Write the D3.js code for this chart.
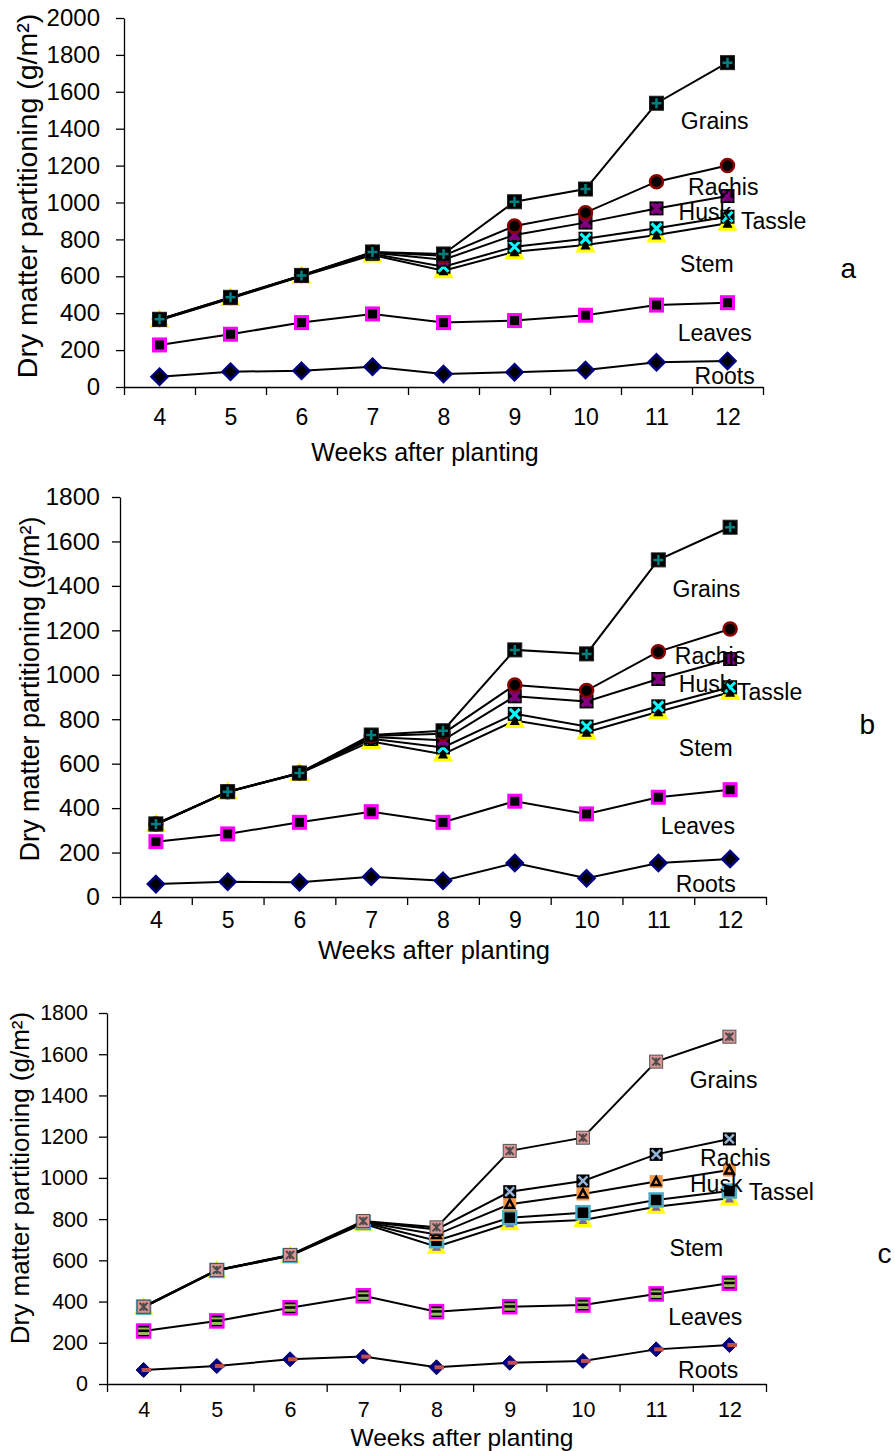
<!DOCTYPE html>
<html>
<head>
<meta charset="utf-8">
<script src="https://cdn.jsdelivr.net/npm/d3@7"></script>
<style>
  body { margin: 0; background: #fff; }
  text { font-family: "Liberation Sans", Arial, sans-serif; fill: #000; }
</style>
</head>
<body>
<svg width="895" height="1451"></svg>
<script>
// weeks after planting (categories)
const weeks = [4, 5, 6, 7, 8, 9, 10, 11, 12];

// panel a, cumulative dry matter (g/m2)
const rootsA  = [56, 83, 88, 110, 70, 80, 92, 134, 141];
const leavesA = [228, 286, 349, 396, 349, 360, 389, 444, 457];
const stemA   = [362, 480, 600, 715, 630, 733, 770, 824, 887];
const tasselA = [364, 482, 602, 722, 652, 760, 804, 860, 923];
const huskA   = [365, 484, 603, 728, 690, 824, 891, 968, 1035];
const rachisA = [366, 485, 604, 730, 712, 873, 945, 1113, 1200];
const grainsA = [367, 486, 605, 732, 721, 1004, 1073, 1538, 1758];

// panel b
const rootsB  = [58, 69, 66, 91, 73, 153, 84, 153, 171];
const leavesB = [249, 284, 336, 384, 336, 431, 374, 449, 483];
const stemB   = [326, 472, 556, 700, 643, 794, 741, 834, 921];
const tasselB = [327, 473, 557, 712, 673, 824, 767, 858, 944];
const huskB   = [328, 473, 557, 720, 705, 903, 880, 981, 1071];
const rachisB = [328, 474, 558, 725, 735, 954, 929, 1104, 1206];
const grainsB = [329, 474, 558, 729, 748, 1112, 1094, 1517, 1664];

// panel c
const rootsC  = [68, 87, 120, 133, 81, 103, 112, 168, 189];
const leavesC = [257, 306, 370, 428, 351, 375, 383, 437, 489];
const stemC   = [372, 550, 622, 778, 666, 780, 796, 860, 901];
const tasselC = [373, 551, 623, 783, 695, 807, 831, 893, 936];
const huskC   = [374, 552, 624, 786, 725, 872, 922, 982, 1038];
const rachisC = [374, 552, 625, 788, 750, 933, 985, 1114, 1189];
const grainsC = [375, 553, 626, 791, 760, 1131, 1195, 1564, 1685];

// series labels written next to the lines
const labelsAB = ["Roots", "Leaves", "Stem", "Tassle", "Husk", "Rachis", "Grains"];
const labelsC  = ["Roots", "Leaves", "Stem", "Tassel", "Husk", "Rachis", "Grains"];

const yTitle = "Dry matter partitioning (g/m\u00B2)";
const xTitle = "Weeks after planting";

// where the series labels sit, in (week, value) units
const labelPosA = [[11.96, 60], [11.82, 293], [11.71, 667], [12.65, 900], [11.68, 949], [11.94, 1084], [11.82, 1442]];
const labelPosB = [[11.66, 59], [11.55, 320], [11.66, 671], [12.55, 923], [11.65, 959], [11.72, 1085], [11.67, 1386]];
const labelPosC = [[11.71, 68], [11.67, 325], [11.55, 660], [12.71, 932], [11.82, 970], [12.08, 1097], [11.92, 1475]];

const markersAB = ["diamond", "sqMagenta", "triYellow", "xCyan", "starPurple", "circleRed", "plusTeal"];
const markersC  = ["diamondRed", "sqGreen", "triPurple", "sqBlue", "triOrange", "xSteel", "starPink"];

const panels = [
  { series: [rootsA, leavesA, stemA, tasselA, huskA, rachisA, grainsA], labels: labelsAB, labelPos: labelPosA,
    markers: markersAB, yMax: 2000, x0: 124, x1: 763, yTop: 18, yBot: 387,
    yFont: 24, yPad: 16, xFont: 23, xLabY: 30, titleX: 425, titleY: 452, titleFont: 25,
    yTitleX: 27, yTitleY: 196, yTitleFont: 28.5, letter: "a", letterPos: [13.70, 645], ms: 14 },
  { series: [rootsB, leavesB, stemB, tasselB, huskB, rachisB, grainsB], labels: labelsAB, labelPos: labelPosB,
    markers: markersAB, yMax: 1800, x0: 120, x1: 766, yTop: 497, yBot: 897,
    yFont: 24.5, yPad: 12, xFont: 23, xLabY: 23, titleX: 434, titleY: 950, titleFont: 25.5,
    yTitleX: 29.5, yTitleY: 689, yTitleFont: 27, letter: "b", letterPos: [13.91, 779], ms: 14 },
  { series: [rootsC, leavesC, stemC, tasselC, huskC, rachisC, grainsC], labels: labelsC, labelPos: labelPosC,
    markers: markersC, yMax: 1800, x0: 107, x1: 766, yTop: 1013, yBot: 1384,
    yFont: 21.5, yPad: 11, xFont: 21.5, xLabY: 25, titleX: 462, titleY: 1437, titleFont: 24.5,
    yTitleX: 19.5, yTitleY: 1178, yTitleFont: 26, letter: "c", letterPos: [14.12, 636], ms: 13 }
];

const svg = d3.select("svg");

function starPath(h) {
  return `M${-h},${-h}L${h},${h}M${-h},${h}L${h},${-h}M0,${-h}L0,${h}`;
}

function drawMarker(g, type, s) {
  const h = s / 2;
  const rect = (fill, stroke, sw) => g.append("rect")
    .attr("x", -h).attr("y", -h).attr("width", s).attr("height", s)
    .attr("fill", fill).attr("stroke", stroke || "none").attr("stroke-width", sw || 0);
  const line = (d, stroke, sw) => g.append("path").attr("d", d)
    .attr("fill", "none").attr("stroke", stroke).attr("stroke-width", sw);
  const tri = (r) => `M0,${-r}L${r * 0.95},${r * 0.75}L${-r * 0.95},${r * 0.75}Z`;

  switch (type) {
    case "diamond":
      g.append("path").attr("d", `M0,${-h - 1}L${h + 1},0L0,${h + 1}L${-h - 1},0Z`)
        .attr("fill", "#000").attr("stroke", "#000080").attr("stroke-width", 2.5);
      break;
    case "sqMagenta":
      g.append("rect").attr("x", -h + 1).attr("y", -h + 1).attr("width", s - 2).attr("height", s - 2)
        .attr("fill", "#000").attr("stroke", "#ff00ff").attr("stroke-width", 3);
      break;
    case "triYellow":
      g.append("path").attr("d", tri(h + 1)).attr("fill", "#000")
        .attr("stroke", "#ffff00").attr("stroke-width", 3);
      break;
    case "xCyan":
      rect("#000");
      line(`M${-h + 2},${-h + 2}L${h - 2},${h - 2}M${-h + 2},${h - 2}L${h - 2},${-h + 2}`, "#00ffff", 3);
      break;
    case "starPurple":
      rect("#000");
      line(starPath(h - 2), "#800080", 3.5);
      break;
    case "circleRed":
      g.append("circle").attr("r", h - 0.5).attr("fill", "#000")
        .attr("stroke", "#8b0000").attr("stroke-width", 2.5);
      break;
    case "plusTeal":
      rect("#000", "#222", 1);
      line(`M0,${-h + 2}L0,${h - 2}M${-h + 2},0L${h - 2},0`, "#008080", 2.5);
      break;
    case "diamondRed":
      g.append("path").attr("d", `M0,${-h - 1}L${h + 1},0L0,${h + 1}L${-h - 1},0Z`)
        .attr("fill", "#000080").attr("stroke", "#000066").attr("stroke-width", 1);
      line(`M-2,0L${h + 1},0`, "#c0504d", 4);
      break;
    case "sqGreen":
      rect("#000", "#ff00ff", 2.5);
      line(`M${-h + 1},-2.5L${h - 1},-2.5`, "#9bbb59", 2);
      line(`M${-h + 1},2.5L${h - 1},2.5`, "#9bbb59", 3);
      break;
    case "triPurple":
      g.append("path").attr("d", tri(h + 1)).attr("fill", "#8064a2")
        .attr("stroke", "#ffff00").attr("stroke-width", 3);
      break;
    case "sqBlue":
      rect("#000", "#4bacc6", 2.5);
      break;
    case "triOrange":
      rect("#f79646");
      g.append("path").attr("d", tri(h - 2)).attr("fill", "#f79646")
        .attr("stroke", "#000").attr("stroke-width", 2.5);
      break;
    case "xSteel":
      rect("#000");
      line(`M${-h + 2},${-h + 2}L${h - 2},${h - 2}M${-h + 2},${h - 2}L${h - 2},${-h + 2}`, "#95b3d7", 2.5);
      break;
    case "starPink":
      rect("#d99694", "#555", 1);
      line(starPath(h - 2.5), "#4d4d4d", 2);
      break;
  }
}

panels.forEach(p => {
  const g = svg.append("g");

  const x = d3.scaleLinear().domain([3.5, 12.5]).range([p.x0, p.x1]);
  const y = d3.scaleLinear().domain([0, p.yMax]).range([p.yBot, p.yTop]);

  // y axis
  const yAxis = g.append("g")
    .attr("transform", `translate(${p.x0},0)`)
    .call(d3.axisLeft(y).tickValues(d3.range(0, p.yMax + 1, 200))
      .tickFormat(d3.format("d"))
      .tickSize(8).tickSizeOuter(0).tickPadding(p.yPad));
  yAxis.selectAll("text").style("font-size", p.yFont + "px")
    .style("font-family", "'Liberation Sans', Arial, sans-serif");
  yAxis.selectAll("line, path").attr("stroke", "#000").attr("stroke-width", 1.3);

  // x axis: tick marks between categories, labels on categories
  const xTicks = g.append("g")
    .attr("transform", `translate(0,${p.yBot})`)
    .call(d3.axisBottom(x).tickValues(weeks.map(w => w - 0.5).concat([12.5]))
      .tickSize(8).tickSizeOuter(0).tickFormat(""));
  xTicks.selectAll("line, path").attr("stroke", "#000").attr("stroke-width", 1.3);

  const xLabels = g.append("g")
    .attr("transform", `translate(0,${p.yBot})`)
    .call(d3.axisBottom(x).tickValues(weeks).tickSize(0).tickPadding(0));
  xLabels.select(".domain").remove();
  xLabels.selectAll("text")
    .attr("y", p.xLabY).attr("dy", "0.35em")
    .style("font-size", p.xFont + "px")
    .style("font-family", "'Liberation Sans', Arial, sans-serif");

  // axis titles
  g.append("text")
    .attr("x", p.titleX).attr("y", p.titleY).attr("dy", "0.35em")
    .attr("text-anchor", "middle")
    .style("font-size", p.titleFont + "px")
    .text(xTitle);

  g.append("text")
    .attr("transform", `translate(${p.yTitleX},${p.yTitleY}) rotate(-90)`)
    .attr("dy", "0.35em")
    .attr("text-anchor", "middle")
    .style("font-size", p.yTitleFont + "px")
    .text(yTitle);

  // lines and markers, bottom series first
  const lineGen = d3.line().x((d, i) => x(weeks[i])).y(d => y(d));

  p.series.forEach((vals, si) => {
    g.append("path")
      .datum(vals)
      .attr("fill", "none")
      .attr("stroke", "#000")
      .attr("stroke-width", 2)
      .attr("d", lineGen);

    g.selectAll(null)
      .data(vals)
      .enter()
      .append("g")
      .attr("transform", (d, i) => `translate(${x(weeks[i])},${y(d)})`)
      .each(function () { drawMarker(d3.select(this), p.markers[si], p.ms); });
  });

  // series labels
  g.selectAll(null)
    .data(p.labels)
    .enter()
    .append("text")
    .attr("x", (d, i) => x(p.labelPos[i][0]))
    .attr("y", (d, i) => y(p.labelPos[i][1]))
    .attr("dy", "0.35em")
    .attr("text-anchor", "middle")
    .style("font-size", "23px")
    .text(d => d);

  // panel letter
  g.append("text")
    .attr("x", x(p.letterPos[0]))
    .attr("y", y(p.letterPos[1]))
    .attr("dy", "0.35em")
    .attr("text-anchor", "middle")
    .style("font-size", "28px")
    .text(p.letter);
});
</script>
</body>
</html>
